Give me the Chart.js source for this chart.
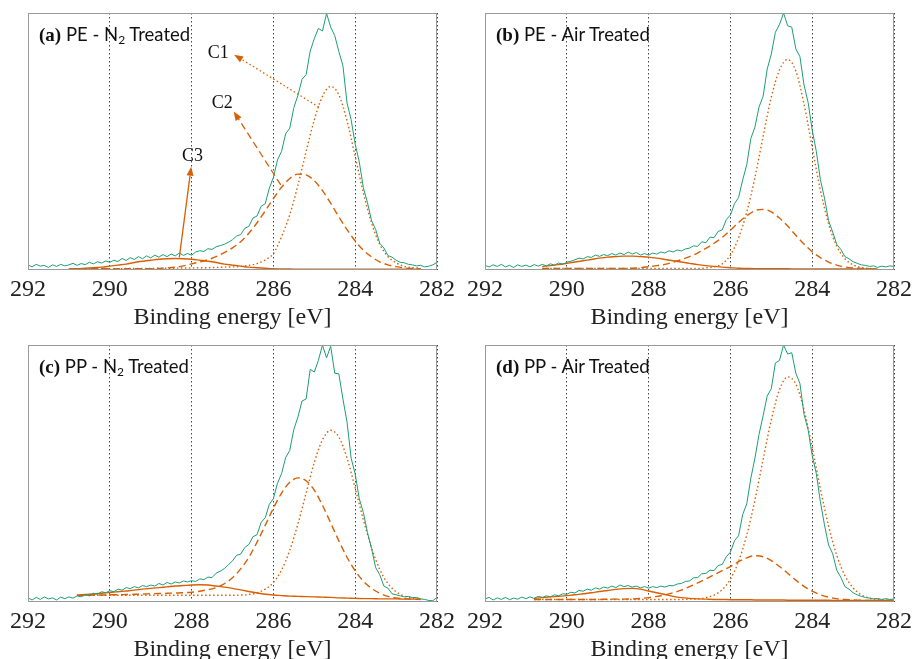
<!DOCTYPE html>
<html><head><meta charset="utf-8">
<script src="https://cdn.jsdelivr.net/npm/chart.js@4"></script>
<style>
html,body{margin:0;padding:0;background:#fff;overflow:hidden;width:917px;height:659px}
.panel{position:absolute;width:460px;height:330px}
.lbl{position:absolute;font-family:Lato,"DejaVu Sans",sans-serif;font-size:18.5px;line-height:20px;color:#111;white-space:nowrap}
.lbl b{font-family:"Liberation Serif",serif;font-size:19px}
.lbl sub{font-size:12px;vertical-align:-3px;line-height:0}
</style></head>
<body>
<div class="panel" style="left:0;top:0"><canvas id="ca" width="460" height="330"></canvas></div>
<div class="panel" style="left:457px;top:0"><canvas id="cb" width="460" height="330"></canvas></div>
<div class="panel" style="left:0;top:332px"><canvas id="cc" width="460" height="330"></canvas></div>
<div class="panel" style="left:457px;top:332px"><canvas id="cd" width="460" height="330"></canvas></div>
<div class="lbl" style="left:39px;top:24px"><b>(a)</b> PE - N<sub>2</sub> Treated</div>
<div class="lbl" style="left:496px;top:24px"><b>(b)</b> PE - Air Treated</div>
<div class="lbl" style="left:39px;top:356px"><b>(c)</b> PP - N<sub>2</sub> Treated</div>
<div class="lbl" style="left:496px;top:356px"><b>(d)</b> PP - Air Treated</div>
<script>
// ---- axis / tick values ----
const tickValues = [292, 290, 288, 286, 284, 282];
const axisTitle = 'Binding energy [eV]';

// energy grid of the measured spectra (eV)
const energyFine = [
292.0,291.9,291.8,291.7,291.6,291.5,291.4,291.3,291.2,291.1,
291.0,290.9,290.8,290.7,290.6,290.5,290.4,290.3,290.2,290.1,
290.0,289.9,289.8,289.7,289.6,289.5,289.4,289.3,289.2,289.1,
289.0,288.9,288.8,288.7,288.6,288.5,288.4,288.3,288.2,288.1,
288.0,287.9,287.8,287.7,287.6,287.5,287.4,287.3,287.2,287.1,
287.0,286.9,286.8,286.7,286.6,286.5,286.4,286.3,286.2,286.1,
286.0,285.9,285.8,285.7,285.6,285.5,285.4,285.3,285.2,285.1,
285.0,284.9,284.8,284.7,284.6,284.5,284.4,284.3,284.2,284.1,
284.0,283.9,283.8,283.7,283.6,283.5,283.4,283.3,283.2,283.1,
283.0,282.9,282.8,282.7,282.6,282.5,282.4,282.3,282.2,282.1,
282.0];

// energy grid of the fitted components (eV)
const energyFit = [
291.0,290.8,290.6,290.4,290.2,290.0,289.8,289.6,289.4,289.2,
289.0,288.8,288.6,288.4,288.2,288.0,287.8,287.6,287.4,287.2,
287.0,286.8,286.6,286.4,286.2,286.0,285.8,285.6,285.4,285.2,
285.0,284.8,284.6,284.4,284.2,284.0,283.8,283.6,283.4,283.2,
283.0,282.8,282.6,282.4,282.2,282.0];

// ---- (a) PE - N2 treated ----
const peN2Spectrum = [
0.020,0.012,0.022,0.015,0.018,0.010,0.020,0.014,0.022,0.016,
0.020,0.026,0.018,0.025,0.021,0.030,0.024,0.032,0.027,0.035,
0.030,0.038,0.033,0.045,0.037,0.048,0.041,0.052,0.044,0.055,
0.047,0.058,0.050,0.060,0.052,0.062,0.055,0.066,0.057,0.064,
0.058,0.070,0.075,0.072,0.083,0.080,0.090,0.095,0.100,0.108,
0.118,0.132,0.138,0.162,0.170,0.202,0.210,0.248,0.258,0.318,
0.360,0.428,0.462,0.530,0.552,0.632,0.680,0.742,0.760,0.852,
0.900,0.940,0.930,0.998,0.945,0.912,0.850,0.795,0.650,0.585,
0.490,0.420,0.320,0.262,0.192,0.158,0.104,0.086,0.056,0.050,
0.038,0.030,0.028,0.022,0.020,0.016,0.018,0.012,0.015,0.020,
0.030];
const peN2C1 = [
0.004,0.004,0.005,0.005,0.005,0.005,0.005,0.006,0.006,0.006,
0.006,0.007,0.007,0.007,0.008,0.008,0.009,0.009,0.010,0.011,
0.012,0.014,0.018,0.025,0.039,0.064,0.130,0.215,0.330,0.461,
0.584,0.676,0.714,0.682,0.581,0.442,0.300,0.183,0.100,0.052,
0.028,0.014,0.009,0.007,null,null];
const peN2C2 = [
0.005,0.005,0.005,0.005,0.005,0.005,0.005,0.005,0.005,0.005,
0.005,0.006,0.008,0.011,0.016,0.024,0.031,0.040,0.052,0.068,
0.086,0.110,0.143,0.184,0.230,0.278,0.322,0.356,0.373,0.370,
0.347,0.309,0.260,0.207,0.157,0.113,0.077,0.051,0.032,0.020,
0.013,0.008,0.006,0.005,null,null];
const peN2C3 = [
0.004,0.005,0.007,0.009,0.011,0.015,0.019,0.023,0.029,0.034,
0.038,0.042,0.044,0.045,0.044,0.042,0.038,0.034,0.029,0.023,
0.019,0.015,0.011,0.009,0.007,0.005,0.004,0.004,0.003,0.003,
0.003,0.003,0.003,0.003,0.003,0.003,0.003,0.003,0.003,0.003,
0.003,0.003,0.003,0.003,null,null];

// ---- (b) PE - Air treated ----
const peAirSpectrum = [
0.018,0.012,0.020,0.014,0.022,0.012,0.018,0.010,0.020,0.014,
0.019,0.012,0.021,0.015,0.022,0.016,0.024,0.019,0.027,0.022,
0.030,0.034,0.040,0.046,0.043,0.052,0.049,0.058,0.053,0.060,
0.056,0.064,0.058,0.066,0.060,0.070,0.062,0.068,0.058,0.064,
0.058,0.066,0.062,0.070,0.066,0.075,0.070,0.078,0.074,0.082,
0.085,0.094,0.092,0.110,0.106,0.128,0.126,0.150,0.156,0.196,
0.214,0.258,0.282,0.350,0.410,0.512,0.556,0.634,0.676,0.782,
0.840,0.925,0.955,1.000,0.950,0.945,0.860,0.830,0.720,0.652,
0.545,0.462,0.352,0.280,0.192,0.148,0.100,0.080,0.052,0.044,
0.032,0.026,0.020,0.018,0.014,0.016,0.010,0.015,0.012,0.016,
0.014];
const peAirC1 = [
null,null,0.006,0.006,0.006,0.006,0.006,0.006,0.006,0.006,
0.006,0.006,0.006,0.006,0.006,0.006,0.006,0.006,0.006,0.006,
0.006,0.006,0.008,0.012,0.024,0.058,0.125,0.225,0.360,0.520,
0.672,0.778,0.819,0.774,0.646,0.477,0.311,0.180,0.093,0.044,
0.020,0.010,0.006,0.005,null,null];
const peAirC2 = [
null,null,0.006,0.006,0.006,0.006,0.006,0.006,0.006,0.006,
0.006,0.006,0.006,0.007,0.009,0.013,0.017,0.022,0.030,0.040,
0.052,0.066,0.084,0.104,0.127,0.155,0.185,0.211,0.231,0.236,
0.226,0.202,0.171,0.135,0.101,0.071,0.048,0.031,0.019,0.012,
0.008,0.006,0.005,0.004,null,null];
const peAirC3 = [
null,null,0.014,0.017,0.021,0.026,0.031,0.036,0.041,0.046,
0.050,0.052,0.054,0.054,0.052,0.050,0.046,0.041,0.036,0.031,
0.026,0.021,0.017,0.014,0.011,0.009,0.007,0.006,0.005,0.005,
0.005,0.005,0.005,0.004,0.004,0.004,0.004,0.004,0.004,0.004,
0.004,0.004,0.004,0.004,null,null];

// ---- (c) PP - N2 treated ----
const ppN2Spectrum = [
0.016,0.008,0.018,0.010,0.020,0.012,0.016,0.008,0.019,0.013,
0.020,0.015,0.024,0.020,0.028,0.024,0.034,0.030,0.040,0.036,
0.044,0.040,0.050,0.046,0.056,0.052,0.060,0.055,0.064,0.060,
0.066,0.062,0.072,0.066,0.076,0.070,0.078,0.074,0.082,0.078,
0.083,0.080,0.090,0.087,0.097,0.095,0.112,0.120,0.130,0.145,
0.160,0.182,0.186,0.212,0.224,0.254,0.262,0.310,0.328,0.380,
0.402,0.462,0.500,0.562,0.590,0.672,0.720,0.782,0.790,0.905,
0.895,0.940,1.000,0.950,0.995,0.890,0.888,0.790,0.700,0.560,
0.498,0.402,0.348,0.270,0.208,0.134,0.106,0.062,0.054,0.032,
0.028,0.024,0.020,0.022,0.017,0.018,0.012,0.010,0.006,0.005,
0.018];
const ppN2C1 = [
null,0.026,0.026,0.026,0.026,0.026,0.026,0.026,0.026,0.026,
0.026,0.026,0.026,0.026,0.026,0.026,0.026,0.026,0.026,0.026,
0.026,0.027,0.029,0.036,0.050,0.076,0.125,0.201,0.304,0.424,
0.543,0.631,0.668,0.642,0.560,0.443,0.320,0.211,0.127,0.072,
0.040,0.023,0.015,0.012,null,null];
const ppN2C2 = [
null,0.026,0.026,0.027,0.027,0.028,0.028,0.029,0.030,0.031,
0.032,0.033,0.034,0.035,0.036,0.038,0.042,0.048,0.056,0.071,
0.094,0.129,0.174,0.233,0.298,0.365,0.424,0.466,0.483,0.472,
0.435,0.376,0.308,0.238,0.174,0.121,0.081,0.053,0.034,0.022,
0.016,0.013,0.011,0.010,null,null];
const ppN2C3 = [
null,0.026,0.029,0.031,0.034,0.037,0.040,0.043,0.046,0.050,
0.053,0.056,0.059,0.062,0.064,0.066,0.067,0.066,0.062,0.058,
0.053,0.047,0.041,0.035,0.030,0.027,0.025,0.023,0.022,0.021,
0.020,0.019,0.018,0.016,0.015,0.014,0.013,0.013,0.012,0.012,
0.012,0.011,0.011,0.011,null,null];

// ---- (d) PP - Air treated ----
const ppAirSpectrum = [
0.012,0.018,0.008,0.016,0.010,0.018,0.009,0.015,0.011,0.019,
0.013,0.020,0.014,0.022,0.018,0.024,0.020,0.028,0.024,0.032,
0.030,0.038,0.035,0.045,0.042,0.050,0.046,0.055,0.050,0.058,
0.054,0.062,0.056,0.066,0.060,0.064,0.058,0.062,0.055,0.060,
0.054,0.060,0.056,0.062,0.058,0.064,0.063,0.070,0.072,0.080,
0.082,0.094,0.095,0.110,0.111,0.124,0.122,0.142,0.146,0.176,
0.194,0.238,0.258,0.340,0.382,0.482,0.560,0.652,0.725,0.802,
0.830,0.930,0.940,1.000,0.965,0.970,0.890,0.850,0.730,0.670,
0.570,0.500,0.390,0.300,0.222,0.188,0.124,0.096,0.060,0.050,
0.036,0.028,0.022,0.018,0.015,0.012,0.014,0.010,0.013,0.010,
0.012];
const ppAirC1 = [
null,0.010,0.010,0.010,0.010,0.010,0.010,0.010,0.010,0.010,
0.010,0.010,0.010,0.010,0.010,0.010,0.010,0.010,0.010,0.010,
0.011,0.012,0.017,0.027,0.048,0.089,0.158,0.261,0.397,0.555,
0.709,0.826,0.876,0.848,0.748,0.601,0.441,0.296,0.182,0.103,
0.055,0.028,0.015,0.010,0.007,0.006];
const ppAirC2 = [
null,0.010,0.010,0.010,0.010,0.010,0.010,0.010,0.010,0.010,
0.011,0.011,0.011,0.012,0.014,0.017,0.022,0.028,0.036,0.046,
0.060,0.074,0.090,0.106,0.122,0.138,0.157,0.172,0.180,0.176,
0.161,0.138,0.112,0.085,0.061,0.042,0.028,0.019,0.013,0.010,
0.008,0.007,0.006,0.006,0.006,0.006];
const ppAirC3 = [
null,0.014,0.017,0.020,0.022,0.025,0.028,0.032,0.036,0.041,
0.045,0.049,0.052,0.053,0.050,0.043,0.036,0.029,0.022,0.017,
0.014,0.012,0.011,0.010,0.010,0.009,0.009,0.009,0.008,0.008,
0.008,0.008,0.007,0.007,0.007,0.007,0.007,0.007,0.006,0.006,
0.006,0.006,0.006,0.006,0.006,0.006];

// ---- annotations of panel (a) ----
const annotLabels = ['C1', 'C2', 'C3'];
const annotTextE = [287.35, 287.25, 287.98];
const annotTextV = [0.843, 0.649, 0.441];
const arrowFromE = [284.89, 285.82, 288.30];
const arrowFromV = [0.634, 0.331, 0.049];
const arrowToE = [286.96, 286.97, 288.01];
const arrowToV = [0.838, 0.617, 0.402];

const GREEN = '#1b9e77', ORANGE = '#d95f02';
const SERIF = '"Liberation Serif", "DejaVu Serif", serif';
const DOT = [1.5, 2.5], DASH = [7, 4];

function pts(xs, ys) { return xs.map((x, i) => ({ x: x, y: ys[i] })); }

const framePlugin = {
  id: 'frame',
  afterDraw(chart) {
    const a = chart.chartArea, ctx = chart.ctx;
    ctx.save();
    ctx.strokeStyle = '#9a9a9a';
    ctx.lineWidth = 1;
    ctx.strokeRect(Math.round(a.left) + 0.5, Math.round(a.top) + 0.5,
      Math.round(a.right - a.left) - 1, Math.round(a.bottom - a.top) - 1);
    ctx.restore();
  }
};

function drawArrow(ctx, x0, y0, x1, y1, dash) {
  const ang = Math.atan2(y1 - y0, x1 - x0), L = 9, W = 3.5;
  const bx = x1 - L * Math.cos(ang), by = y1 - L * Math.sin(ang);
  ctx.save();
  ctx.strokeStyle = ORANGE; ctx.fillStyle = ORANGE; ctx.lineWidth = 1.3;
  ctx.setLineDash(dash);
  ctx.beginPath(); ctx.moveTo(x0, y0); ctx.lineTo(bx, by); ctx.stroke();
  ctx.setLineDash([]);
  ctx.beginPath(); ctx.moveTo(x1, y1);
  ctx.lineTo(bx + W * Math.sin(ang), by - W * Math.cos(ang));
  ctx.lineTo(bx - W * Math.sin(ang), by + W * Math.cos(ang));
  ctx.closePath(); ctx.fill();
  ctx.restore();
}

const annotPlugin = {
  id: 'annot',
  afterDatasetsDraw(chart) {
    const ctx = chart.ctx, sx = chart.scales.x, sy = chart.scales.y;
    const dashes = [DOT, DASH, []];
    annotLabels.forEach((t, i) => {
      drawArrow(ctx, sx.getPixelForValue(arrowFromE[i]), sy.getPixelForValue(arrowFromV[i]),
        sx.getPixelForValue(arrowToE[i]), sy.getPixelForValue(arrowToV[i]), dashes[i]);
      ctx.save();
      ctx.font = '18px ' + SERIF;
      ctx.fillStyle = '#111';
      ctx.textAlign = 'center'; ctx.textBaseline = 'middle';
      ctx.fillText(t, sx.getPixelForValue(annotTextE[i]), sy.getPixelForValue(annotTextV[i]));
      ctx.restore();
    });
  }
};

function makePanel(id, spectrum, c1, c2, c3, withAnnot) {
  const plugins = [framePlugin];
  if (withAnnot) plugins.push(annotPlugin);
  new Chart(document.getElementById(id), {
    type: 'line',
    data: {
      datasets: [
        { data: pts(energyFine, spectrum), borderColor: GREEN, borderWidth: 1, pointRadius: 0, tension: 0 },
        { data: pts(energyFit, c1), borderColor: ORANGE, borderWidth: 1.4, borderDash: DOT, pointRadius: 0, cubicInterpolationMode: 'monotone' },
        { data: pts(energyFit, c2), borderColor: ORANGE, borderWidth: 1.4, borderDash: DASH, pointRadius: 0, cubicInterpolationMode: 'monotone' },
        { data: pts(energyFit, c3), borderColor: ORANGE, borderWidth: 1.4, pointRadius: 0, cubicInterpolationMode: 'monotone' }
      ]
    },
    options: {
      responsive: false,
      animation: false,
      devicePixelRatio: 1,
      layout: { padding: { left: 28, right: 22, top: 13, bottom: 0 } },
      plugins: { legend: { display: false }, tooltip: { enabled: false } },
      scales: {
        x: {
          type: 'linear', reverse: true, min: 282, max: 292,
          afterBuildTicks: s => { s.ticks = tickValues.map(v => ({ value: v })); },
          afterFit: s => { s.height = 60; },
          ticks: { font: { family: SERIF, size: 24 }, color: '#222', padding: 5, maxRotation: 0, autoSkip: false,
                   callback: v => String(v) },
          grid: { color: '#444', lineWidth: 1, drawTicks: false, borderDash: DOT },
          border: { display: false, dash: DOT },
          title: { display: true, text: axisTitle, font: { family: SERIF, size: 24, lineHeight: 1.0 }, color: '#222',
                   padding: { top: 0, bottom: 0 } }
        },
        y: { display: false, min: 0, max: 1 }
      }
    },
    plugins: plugins
  });
}

makePanel('ca', peN2Spectrum, peN2C1, peN2C2, peN2C3, true);
makePanel('cb', peAirSpectrum, peAirC1, peAirC2, peAirC3, false);
makePanel('cc', ppN2Spectrum, ppN2C1, ppN2C2, ppN2C3, false);
makePanel('cd', ppAirSpectrum, ppAirC1, ppAirC2, ppAirC3, false);
</script>
</body></html>
